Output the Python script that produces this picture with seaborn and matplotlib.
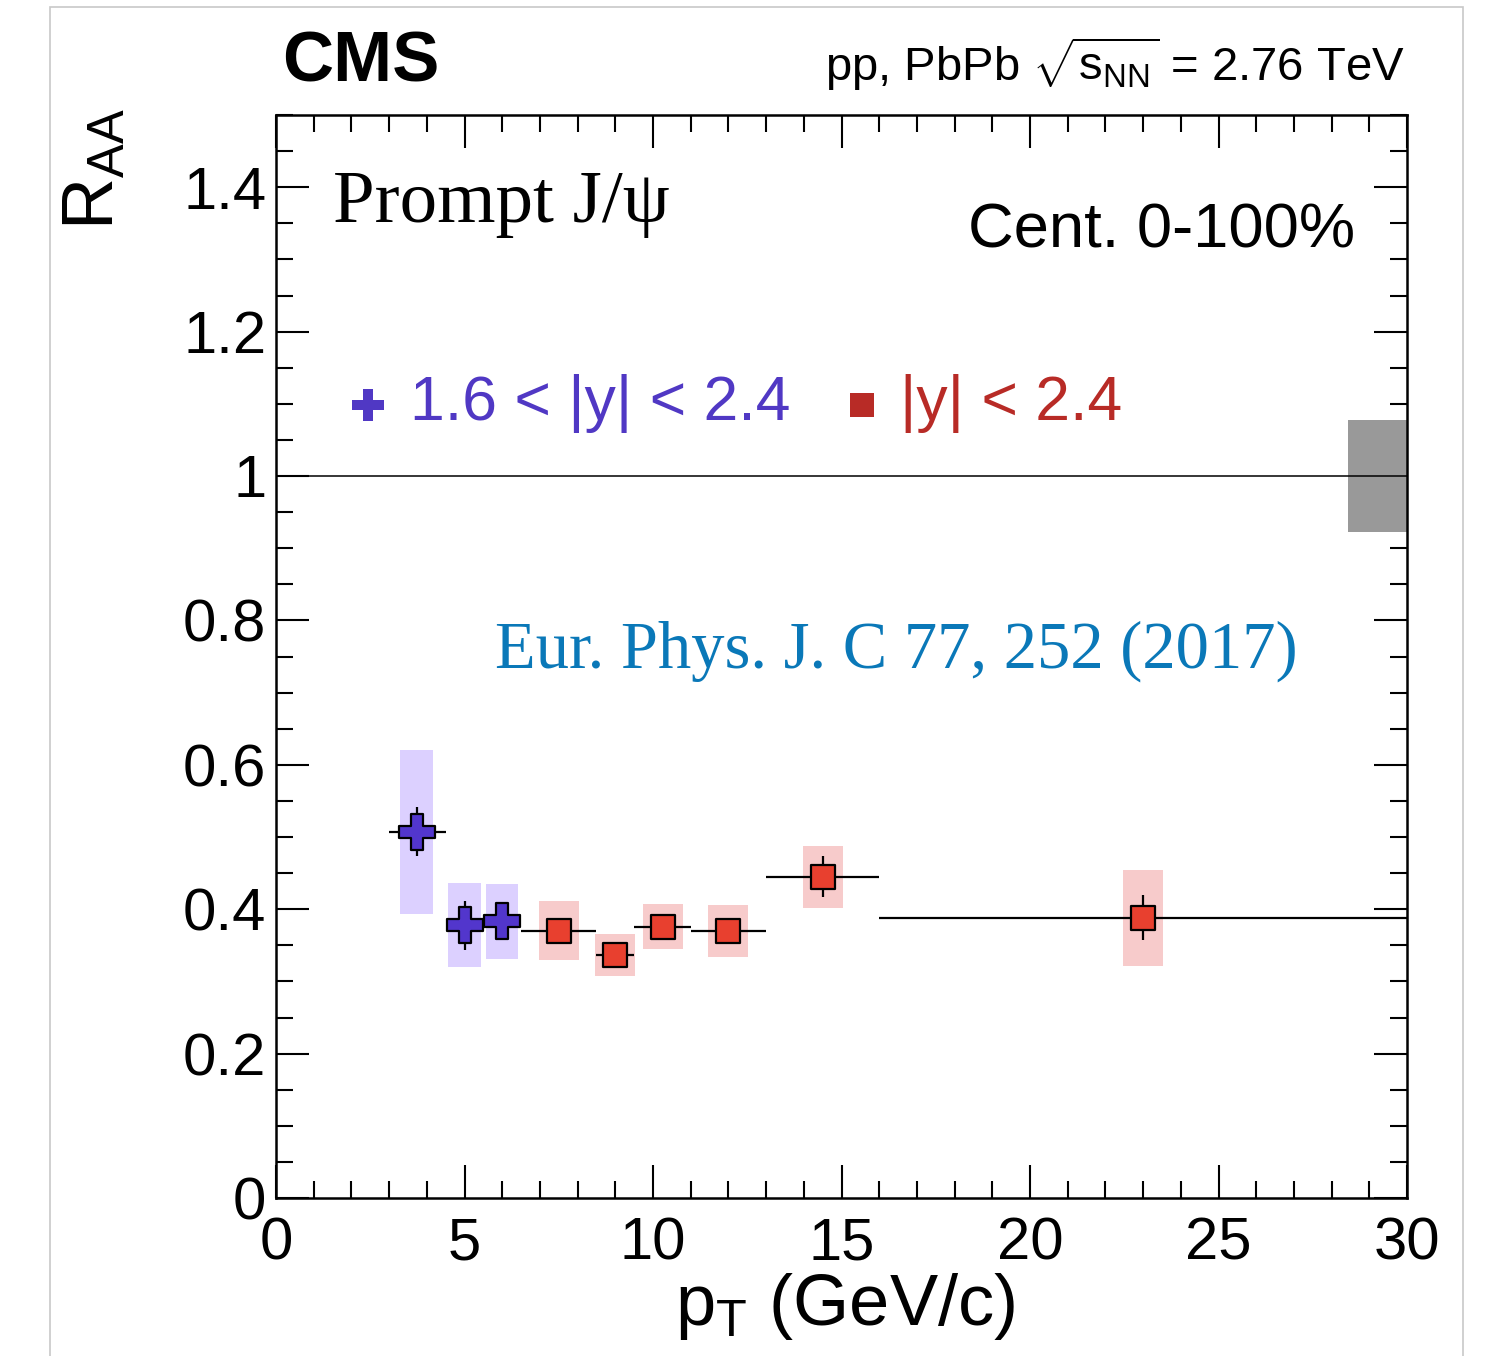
import numpy as np
import pandas as pd
import matplotlib
matplotlib.use("Agg")
import matplotlib.pyplot as plt
from matplotlib.patches import Rectangle
from matplotlib.ticker import MultipleLocator, FuncFormatter
import seaborn as sns

# Prompt J/psi nuclear modification factor, 1.6 < |y| < 2.4
fwd_pt = [3.73, 5.0, 5.99]
fwd_lo = [3.0, 4.5, 5.5]
fwd_hi = [4.5, 5.5, 6.5]
fwd_raa = [0.507, 0.378, 0.383]
fwd_stat = [0.034, 0.034, 0.022]
fwd_syst = [0.114, 0.058, 0.052]

# Prompt J/psi nuclear modification factor, |y| < 2.4
mid_pt = [7.5, 9.0, 10.27, 12.0, 14.5, 23.0]
mid_lo = [6.5, 8.5, 9.5, 11.0, 13.0, 16.0]
mid_hi = [8.5, 9.5, 11.0, 13.0, 16.0, 30.0]
mid_raa = [0.370, 0.336, 0.376, 0.370, 0.445, 0.388]
mid_stat = [0.012, 0.012, 0.014, 0.013, 0.028, 0.031]
mid_syst = [0.041, 0.029, 0.031, 0.036, 0.043, 0.066]

# global normalisation uncertainty drawn at unity
global_unc = 0.077

fwd_label = "1.6 < |y| < 2.4"
mid_label = "|y| < 2.4"

sns.set_theme(style="ticks")
plt.rcParams["font.family"] = ["Liberation Sans", "DejaVu Sans"]
plt.rcParams["mathtext.fontset"] = "custom"
plt.rcParams["mathtext.rm"] = "Liberation Sans"
plt.rcParams["mathtext.it"] = "Liberation Sans:italic"
plt.rcParams["mathtext.bf"] = "Liberation Sans:bold"
for key in ("text.color", "axes.labelcolor", "xtick.color", "ytick.color",
            "xtick.labelcolor", "ytick.labelcolor", "axes.edgecolor"):
    plt.rcParams[key] = "black"

SERIF = ["Liberation Serif", "DejaVu Serif"]

BLUE = "#5236cc"
BLUE_BOX = "#dcd0ff"
BLUE_TXT = "#5038c4"
RED = "#e8402f"
RED_BOX = "#f7cbcb"
RED_TXT = "#b82b26"

W, H = 1485, 1356
fig = plt.figure(figsize=(W / 100, H / 100), dpi=100)
fig.patch.set_facecolor("white")

# thin frame around the canvas
fig.patches.append(Rectangle((50 / W, -0.05), (1463 - 50) / W, 1.05 - 7 / H,
                             transform=fig.transFigure, fill=False,
                             edgecolor="#c8c8c8", linewidth=1.2, zorder=0))

ax = fig.add_axes([276 / W, 1 - 1198 / H, (1407 - 276) / W, (1198 - 115) / H])
ax.set_xlim(0, 30)
ax.set_ylim(0, 1.5)

df_fwd = pd.DataFrame({"pt": fwd_pt, "lo": fwd_lo, "hi": fwd_hi,
                       "raa": fwd_raa, "stat": fwd_stat, "syst": fwd_syst})
df_mid = pd.DataFrame({"pt": mid_pt, "lo": mid_lo, "hi": mid_hi,
                       "raa": mid_raa, "stat": mid_stat, "syst": mid_syst})

# systematic uncertainty boxes
for df, hw, col in [(df_fwd, 0.43, BLUE_BOX), (df_mid, 0.53, RED_BOX)]:
    for _, r in df.iterrows():
        ax.add_patch(Rectangle((r.pt - hw, r.raa - r.syst), 2 * hw, 2 * r.syst,
                               facecolor=col, edgecolor="none", zorder=1))

# global uncertainty and unity line
ax.add_patch(Rectangle((28.44, 1 - global_unc), 30 - 28.44, 2 * global_unc,
                       facecolor="#999999", edgecolor="none", zorder=1))
ax.axhline(1.0, color="black", lw=1.1, zorder=2)

# statistical error bars and bin widths
for df in (df_fwd, df_mid):
    ax.errorbar(df.pt, df.raa, xerr=[df.pt - df.lo, df.hi - df.pt], yerr=df.stat,
                fmt="none", ecolor="black", elinewidth=1.6, capsize=0, zorder=3)

sns.scatterplot(data=df_fwd, x="pt", y="raa", marker="P", s=680, color=BLUE,
                edgecolor="black", linewidth=1.6, zorder=4, ax=ax, legend=False)
sns.scatterplot(data=df_mid, x="pt", y="raa", marker="s", s=310, color=RED,
                edgecolor="black", linewidth=1.6, zorder=4, ax=ax, legend=False)

# axes styling
ax.xaxis.set_major_locator(MultipleLocator(5))
ax.xaxis.set_minor_locator(MultipleLocator(1))
ax.yaxis.set_major_locator(MultipleLocator(0.2))
ax.yaxis.set_minor_locator(MultipleLocator(0.05))
ax.yaxis.set_major_formatter(FuncFormatter(lambda v, p: "%g" % round(v, 2)))
ax.xaxis.set_major_formatter(FuncFormatter(lambda v, p: "%g" % v))
ax.tick_params(which="both", direction="in", top=True, right=True,
               width=1.5, color="black", labelcolor="black", labelsize=43)
ax.tick_params(axis="x", pad=13)
ax.tick_params(axis="y", pad=7)
ax.tick_params(which="major", length=24)
ax.tick_params(which="minor", length=12)
for s in ax.spines.values():
    s.set_linewidth(1.8)
    s.set_color("black")
ax.set_xlabel("")
ax.set_ylabel("")

# axis titles
fig.text(1015 / W, 1 - 1325 / H, r"$\mathrm{p}_{\mathrm{T}}$ (GeV/c)",
         ha="right", va="baseline", fontsize=52)
fig.text(62 / W, 1 - 108 / H, r"$\mathrm{R}_{\mathrm{AA}}$", rotation=90,
         ha="left", va="top", fontsize=52)

# header
fig.text(282 / W, 1 - 82 / H, "CMS", fontsize=51, fontweight="bold",
         ha="left", va="baseline")
fig.text(1405 / W, 1 - 81 / H,
         r"pp, PbPb $\sqrt{\mathrm{s}_{\mathrm{NN}}}$ = 2.76 TeV",
         fontsize=34, ha="right", va="baseline")

# annotations inside the frame
fig.text(333 / W, 1 - 222 / H, "Prompt J/\u03c8", family=SERIF, fontsize=54,
         ha="left", va="baseline")
fig.text(1355 / W, 1 - 247 / H, "Cent. 0-100%", fontsize=45.5,
         ha="right", va="baseline")
fig.text(495 / W, 1 - 668 / H, "Eur. Phys. J. C 77, 252 (2017)", family=SERIF,
         fontsize=48, color="#0a78b8", ha="left", va="baseline")

# legend
ax.scatter([(368 - 276) / 1131], [(1198 - 405) / 1083], transform=ax.transAxes,
           marker="P", s=560, color=BLUE_TXT, edgecolors="none", zorder=5,
           clip_on=False)
ax.scatter([(862 - 276) / 1131], [(1198 - 405) / 1083], transform=ax.transAxes,
           marker="s", s=300, color=RED_TXT, edgecolors="none", zorder=5,
           clip_on=False)
fig.text(410 / W, 1 - 420 / H, fwd_label, fontsize=45, color=BLUE_TXT,
         ha="left", va="baseline")
fig.text(900 / W, 1 - 420 / H, mid_label, fontsize=45, color=RED_TXT,
         ha="left", va="baseline")

fig.savefig("out.png", dpi=100, facecolor="white")
